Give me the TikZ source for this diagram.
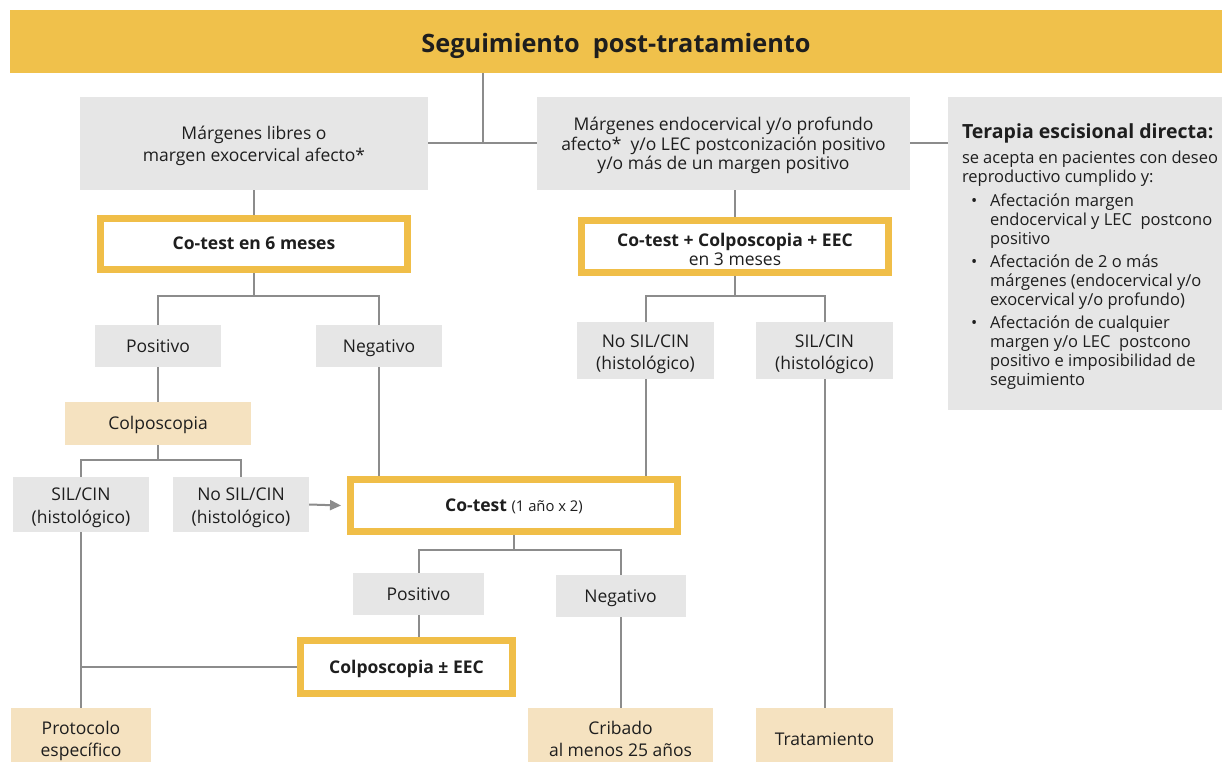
\documentclass[tikz,border=0pt]{standalone}
\usepackage{fontspec}
\setmainfont{Open Sans}
\usetikzlibrary{arrows.meta,backgrounds}
\definecolor{ttl}{HTML}{F0C14B}
\definecolor{ybd}{HTML}{F0BE48}
\definecolor{gfill}{HTML}{E6E6E6}
\definecolor{bfill}{HTML}{F5E2C0}
\definecolor{lin}{HTML}{8C8C8C}
\definecolor{txt}{HTML}{1E1E1E}
\tikzset{
  base/.style={rectangle, inner sep=0pt, align=center, text=txt, font=\fontsize{17.5}{22.5}\selectfont},
  gbox/.style={base, fill=gfill},
  bbox/.style={base, fill=bfill},
  ybox/.style={base, fill=white, draw=ybd, line width=7pt},
  one/.style={text height=13pt, text depth=1pt},
  conn/.style={draw=lin, line width=2pt},
}
% multi-line text, visual centre lowered by #1 from the node centre
\newcommand{\ml}[2]{\raisebox{\dimexpr-4.4pt-#1\relax}[0pt][0pt]{\begin{tabular}{@{}c@{}}#2\end{tabular}}}
\newcommand{\bul}[1]{\par\vspace{5pt}\noindent\hspace*{9pt}\makebox[19pt][l]{•}\parbox[t]{230pt}{#1}}
\begin{document}
\begin{tikzpicture}[x=1pt,y=-1pt]
\useasboundingbox (0,0) rectangle (1226,762);
% title
\node[base, fill=ttl, minimum width=1212, minimum height=63, text height=23pt, text depth=0pt, font=\fontsize{25.3}{30}\selectfont\bfseries] (title) at (616,41.5) {Seguimiento\ \ post-tratamiento};
% first level
\node[gbox, minimum width=348, minimum height=93, font=\fontsize{17.5}{22}\selectfont] (L1) at (254,143.5) {\ml{2.5pt}{Márgenes libres o\\margen exocervical afecto*}};
\node[gbox, minimum width=373, minimum height=93, font=\fontsize{17.5}{19.5}\selectfont] (M1) at (723.5,143.5) {\ml{3pt}{Márgenes endocervical y/o profundo\\afecto*\ \ y/o LEC postconización positivo\\y/o más de un margen positivo}};
\node[gbox, minimum width=274, minimum height=313] (R1) at (1085,253.5) {\hspace*{10pt}\begin{minipage}{256pt}\raggedright
\vspace*{6pt}
{\fontsize{19.5}{22}\selectfont\bfseries Terapia escisional directa:}\par\vspace{6pt}
\fontsize{16.5}{19}\selectfont se acepta en pacientes con deseo\\reproductivo cumplido y:
\bul{Afectación margen\\endocervical y LEC\ \ postcono\\positivo}
\bul{Afectación de 2 o más\\márgenes (endocervical y/o\\exocervical y/o profundo)}
\bul{Afectación de cualquier\\margen y/o LEC\ \ postcono\\positivo e imposibilidad de\\seguimiento}
\end{minipage}};
% left branch
\node[ybox, one, minimum width=307, minimum height=51, font=\fontsize{17.5}{21}\selectfont\bfseries] (C6) at (254,244) {Co-test en 6 meses};
\node[gbox, one, minimum width=126, minimum height=42] (P1) at (158,346) {Positivo};
\node[gbox, one, minimum width=126, minimum height=42] (N1) at (379,346) {Negativo};
\node[bbox, one, minimum width=186, minimum height=43] (Col) at (158,423.5) {Colposcopia};
\node[gbox, minimum width=136, minimum height=55] (S1) at (81,504.5) {\ml{3pt}{SIL/CIN\\(histológico)}};
\node[gbox, minimum width=136, minimum height=55] (NS1) at (241,504.5) {\ml{3pt}{No SIL/CIN\\(histológico)}};
% middle branch
\node[ybox, minimum width=307, minimum height=52, font=\fontsize{17.5}{19.5}\selectfont] (CC) at (735,246.5) {\ml{5.5pt}{\textbf{Co-test + Colposcopia + EEC}\\en 3 meses}};
\node[gbox, minimum width=137, minimum height=57] (NS2) at (645.5,350.5) {\ml{3.5pt}{No SIL/CIN\\(histológico)}};
\node[gbox, minimum width=137, minimum height=57] (S2) at (824.5,350.5) {\ml{3.5pt}{SIL/CIN\\(histológico)}};
% co-test
\node[ybox, one, minimum width=327, minimum height=52] (CT) at (514,505.5) {\textbf{Co-test} {\fontsize{14.8}{17}\selectfont (1 año x 2)}};
\node[gbox, one, minimum width=131, minimum height=42] (P2) at (418.5,594) {Positivo};
\node[gbox, one, minimum width=130, minimum height=42] (N2) at (620.5,596) {Negativo};
\node[ybox, one, minimum width=212, minimum height=53, font=\fontsize{17.5}{21}\selectfont\bfseries] (CE) at (406.5,667) {Colposcopia ± EEC};
% bottom
\node[bbox, minimum width=140, minimum height=62, font=\fontsize{17.5}{22}\selectfont] (Prot) at (81,739) {\ml{2pt}{Protocolo\\específico}};
\node[bbox, minimum width=185, minimum height=62, font=\fontsize{17.5}{22}\selectfont] (Crib) at (620.5,739) {\ml{2pt}{Cribado\\al menos 25 años}};
\node[bbox, one, minimum width=137, minimum height=62] (Trat) at (824.5,739) {Tratamiento};
% junctions
\coordinate (j1) at (483,143.5);
\coordinate (j2) at (254,296);
\coordinate (j3) at (158,460);
\coordinate (j4) at (735,296);
\coordinate (j5) at (514,550);
\begin{scope}[on background layer]
\fill[white] (0,0) rectangle (1226,762);
\draw[conn] (title.south -| j1) -- (j1);
\draw[conn] (L1.east) -- (M1.west);
\draw[conn] (M1.east) -- (R1.west |- M1.east);
\draw[conn] (L1.south) -- (C6.north);
\draw[conn] (C6.south) -- (j2);
\draw[conn] (P1.north) |- (j2) -| (N1.north);
\draw[conn] (P1.south) -- (Col.north);
\draw[conn] (Col.south) -- (j3);
\draw[conn] (S1.north) |- (j3) -| (NS1.north);
\draw[conn] (N1.south) -- (N1.south |- CT.north);
\draw[conn] (M1.south -| CC.north) -- (CC.north);
\draw[conn] (CC.south) -- (j4);
\draw[conn] (NS2.north) |- (j4) -| (S2.north);
\draw[conn] (NS2.south) -- (NS2.south |- CT.north);
\draw[conn] (S2.south) -- (Trat.north);
\draw[conn] (CT.south) -- (j5);
\draw[conn] (P2.north) |- (j5) -| (N2.north);
\draw[conn] (P2.south) -- (P2.south |- CE.north);
\draw[conn] (CE.west) -- (CE.west -| S1.south);
\draw[conn] (S1.south) -- (Prot.north);
\draw[conn] (N2.south) -- (Crib.north);
\end{scope}
\draw[conn, -{Triangle[length=11pt,width=10pt]}] (NS1.east) -- ([xshift=-6pt]CT.west);
\end{tikzpicture}
\end{document}
